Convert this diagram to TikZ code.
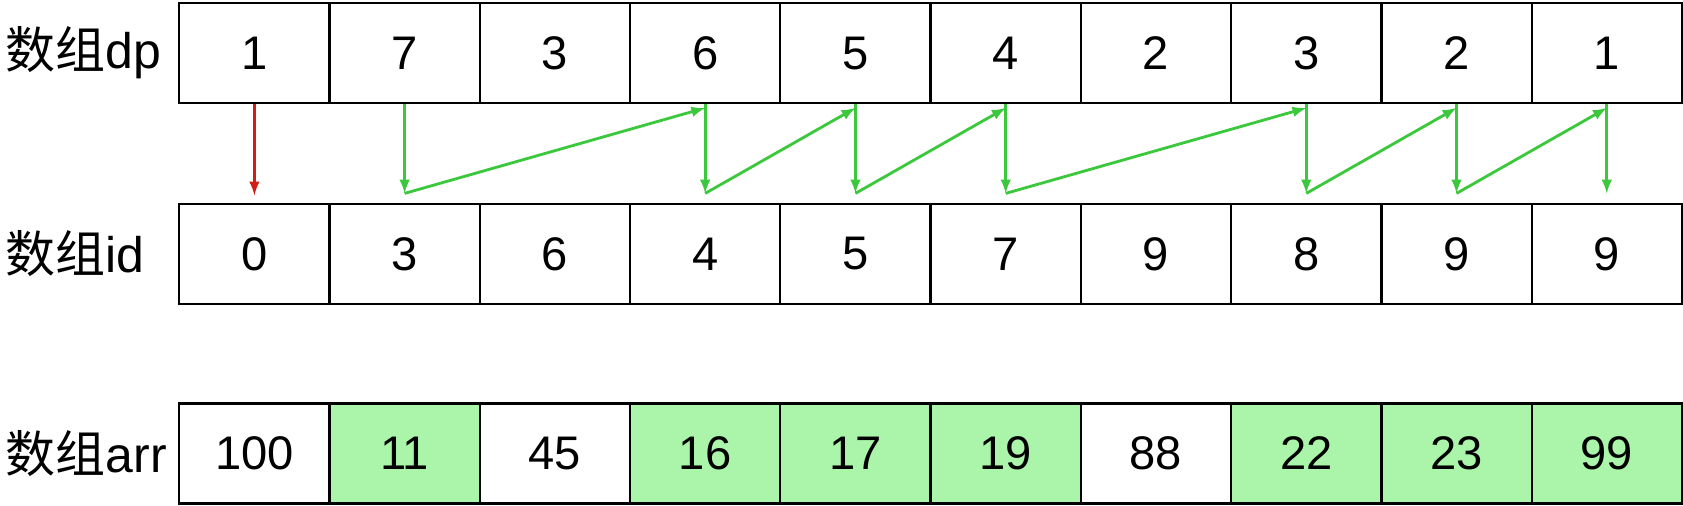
\documentclass[tikz,border=0pt]{standalone}
\usepackage{fontspec}
\setmainfont{Liberation Sans}
\newfontfamily\cjk{Noto Sans CJK SC}
\definecolor{cellgreen}{RGB}{170,245,170}
\definecolor{arrgreen}{RGB}{60,200,60}
\definecolor{arrred}{RGB}{210,30,20}
\tikzset{
  cell/.style={draw, line width=1.2pt, minimum width=2.8cm, minimum height=1.86cm, inner sep=0pt, font=\fontsize{25}{29}\selectfont},
  rowlabel/.style={anchor=west, inner sep=0pt, font=\fontsize{26.5}{30}\selectfont},
  garrow/.style={-latex, arrgreen, line width=1.5pt},
}
\begin{document}
\begin{tikzpicture}[x=0.02cm, y=-0.02cm]
\useasboundingbox (0,0) rectangle (1568,471);
% row labels
\node[rowlabel] (Ldp) at (5,49.5) {{\cjk 数组}dp};
\node[rowlabel] (Lid) at (5,236.5) {{\cjk 数组}id};
\node[rowlabel] (Larr) at (5,422.5) {{\cjk 数组}arr};
% the three rows
\foreach \v [count=\i from 0] in {1,7,3,6,5,4,2,3,2,1}
  \node[cell] (dp\i) at (237+140*\i,49.5) {\v};
\foreach \v [count=\i from 0] in {0,3,6,4,5,7,9,8,9,9}
  \node[cell] (id\i) at (237+140*\i,236.5) {\v};
\foreach \v/\f [count=\i from 0] in {100/white,11/cellgreen,45/white,16/cellgreen,17/cellgreen,19/cellgreen,88/white,22/cellgreen,23/cellgreen,99/cellgreen}
  \node[cell, fill=\f] (arr\i) at (237+140*\i,422.5) {\v};
% arrows
\draw[-latex, arrred, line width=1.5pt] (dp0.south) -- ([yshift=4]id0.north);
\foreach \i in {1,3,4,5,7,8,9}
  \draw[garrow] (dp\i.south) -- ([yshift=5]id\i.north);
\foreach \a/\b in {1/3,3/4,4/5,5/7,7/8,8/9}
  \draw[garrow] ([yshift=5]id\a.north) -- ([yshift=-2]dp\b.south);
\end{tikzpicture}
\end{document}
